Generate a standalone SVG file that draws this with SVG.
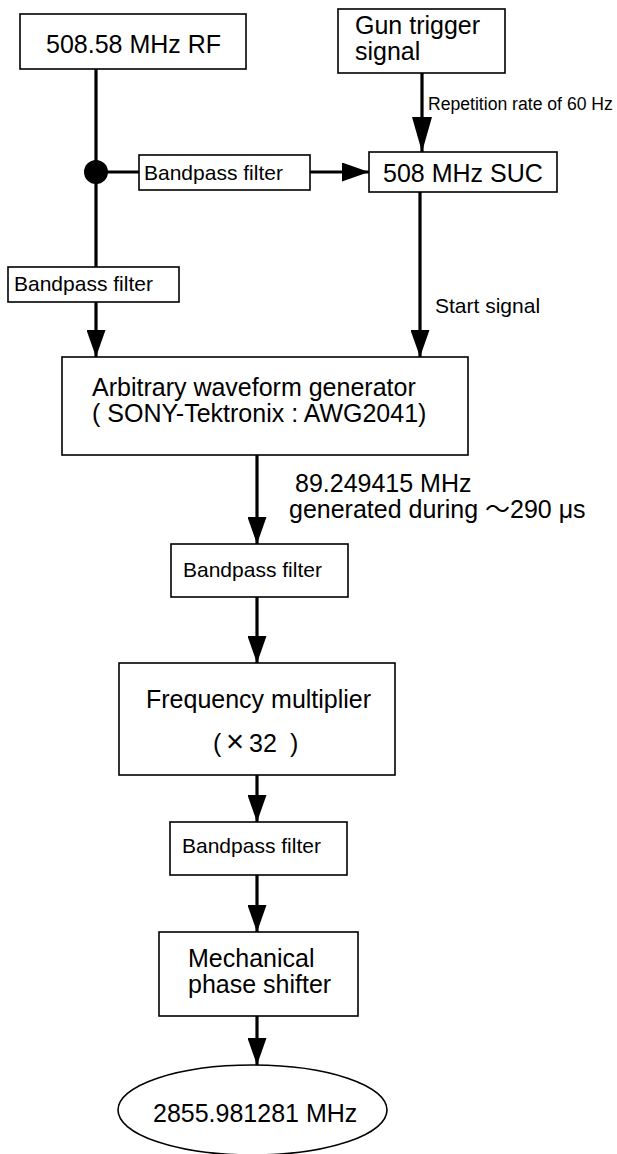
<svg xmlns="http://www.w3.org/2000/svg" width="617" height="1154" viewBox="0 0 617 1154">
<defs>
<style>
.box{fill:#fff;stroke:#000;stroke-width:1.6}
.t{font-family:"Liberation Sans",Arial,sans-serif;fill:#000}
.big{font-size:25px}
.mid{font-size:21px}
.sm{font-size:17.6px}
.wire{stroke:#000;stroke-width:3.2;fill:none}
</style>
<marker id="ah" markerUnits="userSpaceOnUse" markerWidth="27" markerHeight="19" refX="27" refY="9.5" orient="auto">
<path d="M0,0 L27,9.5 L0,19 z" fill="#000"/>
</marker>
<marker id="ahl" markerUnits="userSpaceOnUse" markerWidth="35" markerHeight="20" refX="35" refY="10" orient="auto">
<path d="M0,0 L35,10 L0,20 z" fill="#000"/>
</marker>
</defs>
<rect width="617" height="1154" fill="#fff"/>

<g id="connectors">
<line class="wire" x1="96" y1="69" x2="96" y2="267"/>
<line class="wire" x1="96" y1="172" x2="139" y2="172"/>
<circle cx="96" cy="172" r="12" fill="#000"/>
<line class="wire" x1="310" y1="172" x2="369" y2="172" marker-end="url(#ah)"/>
<line class="wire" x1="422" y1="73" x2="422" y2="152" marker-end="url(#ahl)"/>
<line class="wire" x1="96" y1="302" x2="96" y2="357" marker-end="url(#ah)"/>
<line class="wire" x1="420" y1="192" x2="420" y2="357" marker-end="url(#ah)"/>
<line class="wire" x1="257" y1="455" x2="257" y2="544" marker-end="url(#ah)"/>
<line class="wire" x1="257" y1="597" x2="257" y2="663" marker-end="url(#ah)"/>
<line class="wire" x1="257" y1="775" x2="257" y2="822" marker-end="url(#ah)"/>
<line class="wire" x1="257" y1="875" x2="257" y2="932" marker-end="url(#ah)"/>
<line class="wire" x1="257" y1="1016" x2="257" y2="1065" marker-end="url(#ah)"/>
<text class="t sm" x="428" y="110">Repetition rate of 60 Hz</text>
<text class="t mid" x="435" y="313">Start signal</text>
<text class="t big" x="295" y="492">89.249415 MHz</text>
<text class="t big" x="289" y="518">generated during <tspan font-family="'Noto Sans CJK JP',sans-serif">～</tspan>290 μs</text>
</g>

<g id="rf">
<rect class="box" x="20" y="14" width="226" height="55"/>
<text class="t big" x="46" y="53">508.58 MHz RF</text>
</g>

<g id="gun">
<rect class="box" x="338" y="9" width="167" height="64"/>
<text class="t big" x="355" y="34">Gun trigger</text>
<text class="t big" x="355" y="60">signal</text>
</g>

<g id="bpf1">
<rect class="box" x="139" y="155" width="171" height="35"/>
<text class="t mid" x="144" y="180">Bandpass filter</text>
</g>

<g id="suc">
<rect class="box" x="369" y="152" width="188" height="40"/>
<text class="t big" x="383" y="182">508 MHz SUC</text>
</g>

<g id="bpf2">
<rect class="box" x="8" y="267" width="171" height="35"/>
<text class="t mid" x="14" y="291">Bandpass filter</text>
</g>

<g id="awg">
<rect class="box" x="62" y="357" width="406" height="98"/>
<text class="t big" x="92" y="396">Arbitrary waveform generator</text>
<text class="t big" x="92" y="422">( SONY-Tektronix : AWG2041)</text>
</g>

<g id="bpf3">
<rect class="box" x="171" y="544" width="177" height="53"/>
<text class="t mid" x="183" y="577">Bandpass filter</text>
</g>

<g id="mult">
<rect class="box" x="119" y="663" width="276" height="112"/>
<text class="t big" x="146" y="708">Frequency multiplier</text>
<text class="t big" x="213" y="752" font-family="'Noto Sans CJK JP',sans-serif"><tspan x="213">(</tspan><tspan x="226" font-size="31">×</tspan><tspan x="249">32</tspan><tspan x="290">)</tspan></text>
</g>

<g id="bpf4">
<rect class="box" x="170" y="822" width="177" height="53"/>
<text class="t mid" x="182" y="853">Bandpass filter</text>
</g>

<g id="phase">
<rect class="box" x="159" y="932" width="199" height="84"/>
<text class="t big" x="188" y="967">Mechanical</text>
<text class="t big" x="188" y="993">phase shifter</text>
</g>

<g id="out">
<ellipse class="box" cx="252.5" cy="1110" rx="134.5" ry="45"/>
<text class="t big" x="153" y="1122">2855.981281 MHz</text>
</g>
</svg>
